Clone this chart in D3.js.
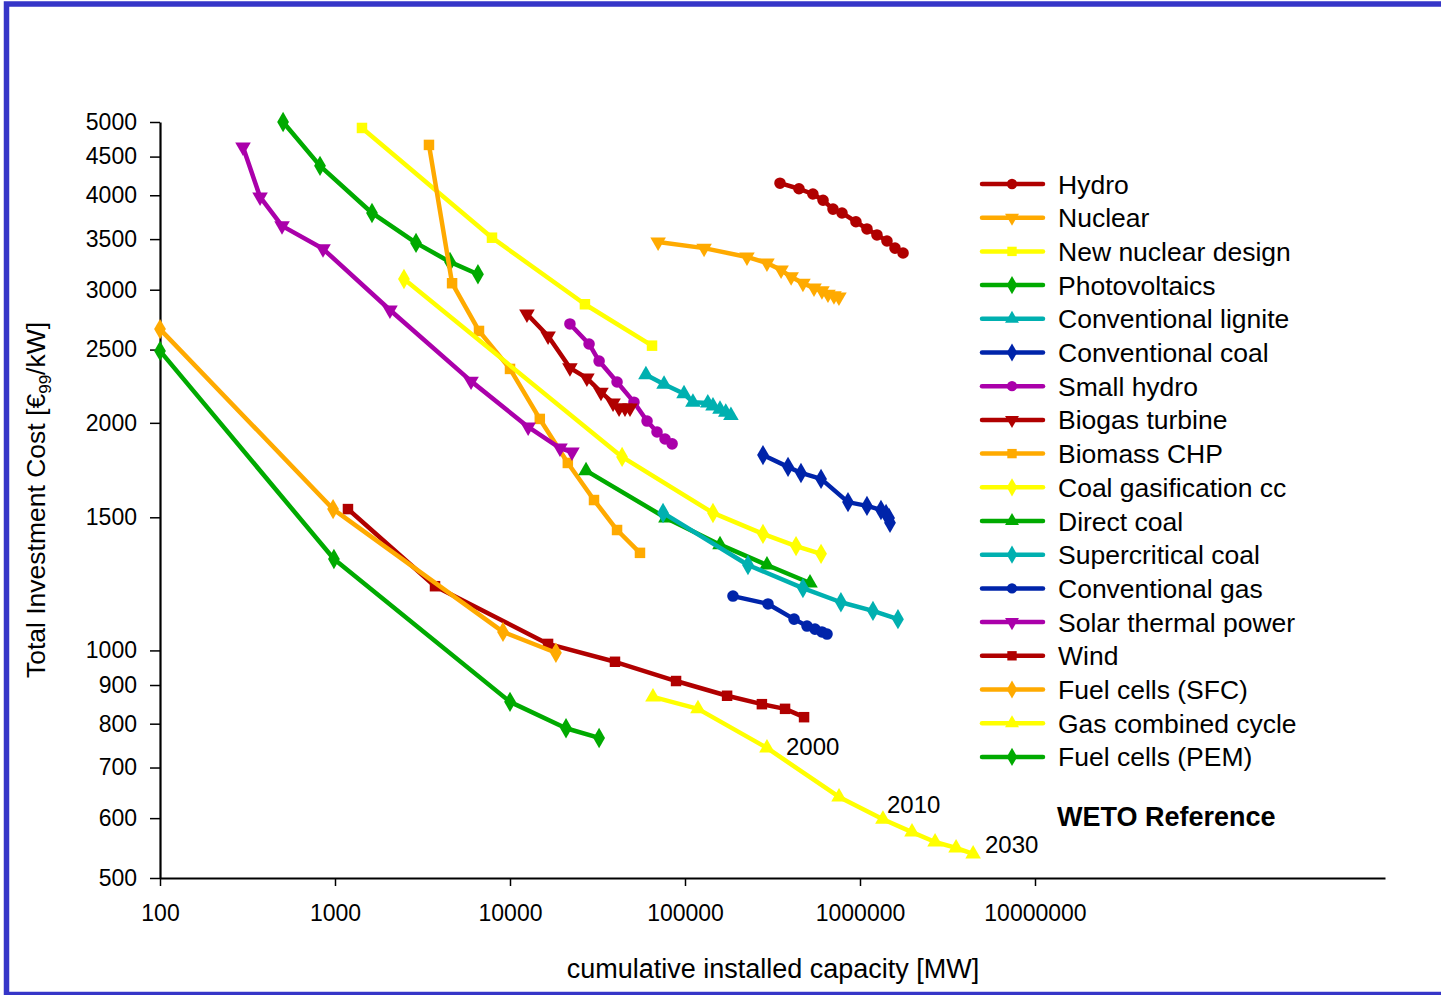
<!DOCTYPE html>
<html><head><meta charset="utf-8">
<script src="https://cdn.jsdelivr.net/npm/d3@7"></script>
<style>
html,body{margin:0;padding:0;background:#fff;}
text{font-family:"Liberation Sans",Arial,sans-serif;fill:#000;}
</style></head>
<body>
<svg id="chart" width="1441" height="995"></svg>
<script>
// ---- data (cumulative MW, €99/kW) ----
const xTicks = [100, 1000, 10000, 100000, 1000000, 10000000];
const yTicks = [500, 600, 700, 800, 900, 1000, 1500, 2000, 2500, 3000, 3500, 4000, 4500, 5000];

const hydro = [[349000,4150],[448000,4080],[538000,4015],[615000,3940],[701000,3835],[789000,3790],[948000,3690],[1096000,3610],[1250000,3545],[1426000,3480],[1585000,3405],[1762000,3355]];
const nuclear = [[70200,3470],[128500,3405],[226000,3315],[294000,3255],[354000,3185],[404000,3120],[472000,3060],[546000,3015],[606000,2990],[656000,2960],[710000,2945],[758000,2935]];
const newNuclear = [[1426,4910],[7890,3515],[26800,2870],[64800,2530]];
const photovoltaics = [[505,5000],[821,4375],[1627,3790],[2904,3460],[4540,3265],[6560,3145]];
const convLignite = [[59800,2315],[75900,2250],[98700,2185],[111000,2130],[135000,2125],[144500,2105],[158500,2085],[171000,2065],[183000,2045]];
const convCoal = [[279000,1813],[388000,1749],[460000,1717],[599000,1686],[854000,1571],[1096000,1553],[1318000,1534],[1409000,1515],[1466000,1497],[1484000,1475]];
const smallHydro = [[22000,2703],[28300,2543],[32300,2414],[40900,2265],[51100,2130],[60700,2011],[69200,1945],[76900,1904],[84400,1876]];
const biogas = [[12500,2786],[16500,2606],[22000,2365],[27500,2292],[33100,2196],[38800,2125],[42000,2093],[45400,2093],[48500,2093]];
const biomassCHP = [[3443,4663],[4667,3060],[6650,2646],[10000,2357],[14800,2024],[21400,1770],[30200,1581],[40900,1443],[55300,1346]];
const coalGasification = [[2478,3100],[43700,1803],[144500,1520],[279000,1426],[431000,1374],[599000,1342]];
const directCoal = [[27200,1729],[77800,1497],[158500,1380],[294000,1297],[518000,1228]];
const supercritical = [[74900,1520],[229000,1297],[472000,1209],[778000,1158],[1186000,1128],[1648000,1100]];
const convGas = [[188000,1180],[298000,1152],[420000,1100],[498000,1077],[553000,1067],[606000,1058],[648000,1051]];
const solarThermal = [[298,4634],[373,3980],[498,3644],[854,3398],[2061,2820],[5990,2271],[12700,1975],[19300,1852],[22600,1830]];
const wind = [[1186,1538],[3728,1216],[16500,1020],[39800,966],[88900,911],[174000,871],[275000,849],[373000,837],[479000,816]];
const fuelSFC = [[100,2661],[975,1538],[9120,1058],[18300,993]];
const gasCC = [[65600,868],[118600,837],[294000,743],[759000,640],[1352000,598],[1982000,575],[2685000,558],[3540000,548],[4430000,538]];
const fuelPEM = [[100,2490],[986,1321],[10000,855],[20900,789],[32300,766]];

const seriesNames = ["Hydro","Nuclear","New nuclear design","Photovoltaics","Conventional lignite","Conventional coal","Small hydro","Biogas turbine","Biomass CHP","Coal gasification cc","Direct coal","Supercritical coal","Conventional gas","Solar thermal power","Wind","Fuel cells (SFC)","Gas combined cycle","Fuel cells (PEM)"];
const seriesData = [hydro,nuclear,newNuclear,photovoltaics,convLignite,convCoal,smallHydro,biogas,biomassCHP,coalGasification,directCoal,supercritical,convGas,solarThermal,wind,fuelSFC,gasCC,fuelPEM];
const seriesColors = ["#B00000","#FFAA00","#FFFF00","#00AA00","#00B0B0","#0024AA","#AA00AA","#B00000","#FFAA00","#FFFF00","#00AA00","#00B0B0","#0024AA","#AA00AA","#B00000","#FFAA00","#FFFF00","#00AA00"];
const seriesMarkers = ["circle","down","square","diamond","up","diamond","circle","down","square","diamond","up","diamond","circle","down","square","diamond","up","diamond"];

const yearLabels = [["2000",786,755],["2010",887,813],["2030",985,853]];

// ---- drawing ----
const svg = d3.select("#chart");
svg.append("rect").attr("x",6.5).attr("y",4).attr("width",1450).attr("height",990.5)
  .attr("fill","none").attr("stroke","#3636C8").attr("stroke-width",5.5);

const x = d3.scaleLog().domain([100,1e9]).range([160,1385]);
const y = d3.scaleLog().domain([500,5000]).range([878,122]);

// axes
const xAxis = d3.axisBottom(x).tickValues(xTicks).tickFormat(d3.format("d")).tickSize(8).tickPadding(19).tickSizeOuter(0);
const gx = svg.append("g").attr("transform","translate(0,878)").call(xAxis);
gx.select(".domain").attr("stroke","#000").attr("stroke-width",2.2);
gx.selectAll(".tick line").attr("stroke","#000").attr("stroke-width",1.5);
gx.selectAll(".tick text").attr("font-size",23).attr("font-family","Liberation Sans, Arial, sans-serif");

const yAxis = d3.axisLeft(y).tickValues(yTicks).tickFormat(d3.format("d")).tickSize(10).tickPadding(13).tickSizeOuter(0);
const gy = svg.append("g").attr("transform","translate(160,0)").call(yAxis);
gy.select(".domain").attr("stroke","#000").attr("stroke-width",2.2);
gy.selectAll(".tick line").attr("stroke","#000").attr("stroke-width",1.5);
gy.selectAll(".tick text").attr("font-size",23).attr("font-family","Liberation Sans, Arial, sans-serif");

// axis titles
svg.append("text").attr("x",773).attr("y",978).attr("text-anchor","middle").attr("font-size",27)
  .text("cumulative installed capacity [MW]");
const yt = svg.append("text").attr("transform","translate(45,500) rotate(-90)").attr("text-anchor","middle").attr("font-size",26.5);
yt.append("tspan").text("Total Investment Cost [€");
yt.append("tspan").attr("font-size",17).attr("dy",6).text("99");
yt.append("tspan").attr("dy",-6).text("/kW]");

// symbols
function symPath(kind, size){
  const map = {circle:d3.symbolCircle, square:d3.symbolSquare, diamond:d3.symbolDiamond, up:d3.symbolTriangle, down:d3.symbolTriangle};
  return d3.symbol().type(map[kind]).size(size)();
}
function markerSize(kind){
  return {circle:105, square:110, diamond:120, up:105, down:105}[kind];
}

const line = d3.line().x(d=>x(d[0])).y(d=>y(d[1]));
seriesData.forEach((data,i)=>{
  const g = svg.append("g");
  g.append("path").datum(data).attr("d",line).attr("fill","none")
    .attr("stroke",seriesColors[i]).attr("stroke-width",4.5).attr("stroke-linejoin","round").attr("stroke-linecap","round");
  const kind = seriesMarkers[i];
  g.selectAll("path.m").data(data).enter().append("path").attr("class","m")
    .attr("d",symPath(kind,markerSize(kind)))
    .attr("transform",d=>`translate(${x(d[0])},${y(d[1])})`+(kind==="down"?" rotate(180)":""))
    .attr("fill",seriesColors[i]);
});

// year annotations
yearLabels.forEach(l=>{
  svg.append("text").attr("x",l[1]).attr("y",l[2]).attr("font-size",24).text(l[0]);
});

// legend
const legend = svg.append("g");
seriesNames.forEach((name,i)=>{
  const ly = 184 + i*33.7;
  legend.append("line").attr("x1",982).attr("x2",1043).attr("y1",ly).attr("y2",ly)
    .attr("stroke",seriesColors[i]).attr("stroke-width",4.5).attr("stroke-linecap","round");
  const kind = seriesMarkers[i];
  legend.append("path").attr("d",symPath(kind,markerSize(kind)*0.8))
    .attr("transform",`translate(1012,${ly})`+(kind==="down"?" rotate(180)":""))
    .attr("fill",seriesColors[i]);
  legend.append("text").attr("x",1058).attr("y",ly).attr("dy","0.36em").attr("font-size",26.5).text(name);
});
svg.append("text").attr("x",1057).attr("y",826).attr("font-size",27).attr("font-weight","bold").text("WETO Reference");
</script>
</body></html>
